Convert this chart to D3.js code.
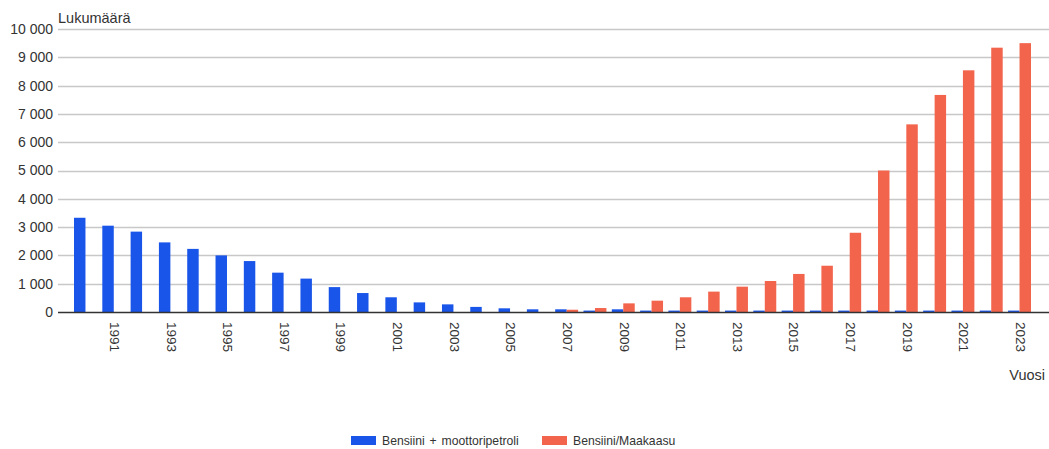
<!DOCTYPE html>
<html>
<head>
<meta charset="utf-8">
<script src="https://cdn.jsdelivr.net/npm/d3@7"></script>
<style>
  html, body { margin: 0; padding: 0; background: #fff; }
  svg { display: block; font-family: "Liberation Sans", Arial, sans-serif; }
</style>
</head>
<body>
<svg id="chart" width="1049" height="449"></svg>
<script>
// Registered vehicles by year and fuel type
const years = d3.range(1990, 2024);
const seriesNames = ["Bensiini + moottoripetroli", "Bensiini/Maakaasu"];
const petrolKerosene = [3330, 3050, 2840, 2460, 2230, 2000, 1800, 1390, 1180, 880,
  670, 520, 340, 270, 180, 130, 95, 95, 50, 95,
  50, 50, 50, 50, 50, 50, 50, 50, 50, 50,
  50, 50, 50, 50];
const petrolGas = [0, 0, 0, 0, 0, 0, 0, 0, 0, 0,
  0, 0, 0, 0, 0, 0, 0, 80, 140, 305,
  400, 520, 720, 895, 1095, 1345, 1635, 2800, 5000, 6630,
  7670, 8540, 9340, 9500];
const yTicks = [0, 1000, 2000, 3000, 4000, 5000, 6000, 7000, 8000, 9000, 10000];
const colors = ["#1a55ea", "#f3644c"];

const svg = d3.select("#chart");
const plotLeft = 58, plotRight = 1049, plotTop = 29, plotBottom = 312;

const x = d3.scaleBand().domain(years).range([74, 1031]).paddingInner(0.19).paddingOuter(0);
const xs = d3.scaleBand().domain([0, 1]).range([0, x.bandwidth()]);
const y = d3.scaleLinear().domain([0, 10000]).range([plotBottom, plotTop]);

const fmt = v => d3.format(",")(v).replace(/,/g, " ");

// Horizontal gridlines
svg.append("g")
  .selectAll("line")
  .data(yTicks.filter(d => d > 0))
  .join("line")
  .attr("x1", plotLeft).attr("x2", plotRight)
  .attr("y1", d => Math.round(y(d)) + 0.5).attr("y2", d => Math.round(y(d)) + 0.5)
  .attr("stroke", "#c8c8c8").attr("stroke-width", 1.6);

// Y axis labels
const yAxis = d3.axisLeft(y).tickValues(yTicks).tickFormat(fmt).tickSize(0).tickPadding(0);
const gy = svg.append("g").attr("transform", `translate(${plotLeft - 5},0)`).call(yAxis);
gy.select(".domain").remove();
gy.selectAll("text").attr("font-size", 14).attr("fill", "#333")
  .attr("font-family", "'Liberation Sans', Arial, sans-serif");

// Bars
const series = [petrolKerosene, petrolGas];
const groups = svg.append("g")
  .selectAll("g")
  .data(years)
  .join("g")
  .attr("transform", d => `translate(${x(d)},0)`);
groups.selectAll("rect")
  .data((d, i) => series.map((s, k) => ({ k, v: s[i] })))
  .join("rect")
  .attr("x", d => xs(d.k))
  .attr("width", xs.bandwidth())
  .attr("y", d => y(d.v))
  .attr("height", d => plotBottom - y(d.v))
  .attr("fill", d => colors[d.k]);

// Baseline
svg.append("line")
  .attr("x1", plotLeft).attr("x2", plotRight)
  .attr("y1", plotBottom + 0.5).attr("y2", plotBottom + 0.5)
  .attr("stroke", "#333").attr("stroke-width", 1.4);

// X axis labels (every second year, rotated)
const xAxis = d3.axisBottom(x).tickValues(years.filter(d => d % 2 === 1)).tickSize(0).tickPadding(0);
const gx = svg.append("g").attr("transform", `translate(1,${plotBottom + 10})`).call(xAxis);
gx.select(".domain").remove();
gx.selectAll("text")
  .attr("font-size", 13.5).attr("fill", "#333")
  .attr("font-family", "'Liberation Sans', Arial, sans-serif")
  .attr("transform", "rotate(90)")
  .attr("text-anchor", "start")
  .attr("dy", "0.35em").attr("y", 0).attr("x", 0);

// Axis titles
svg.append("text").attr("x", 58).attr("y", 22.5)
  .attr("font-size", 14.5).attr("fill", "#333").text("Lukumäärä");
svg.append("text").attr("x", 1045).attr("y", 380).attr("text-anchor", "end")
  .attr("font-size", 14.5).attr("fill", "#333").text("Vuosi");

// Legend
const legend = svg.append("g").attr("transform", "translate(351,436)");
const legendX = [0, 191];
seriesNames.forEach((name, k) => {
  const g = legend.append("g").attr("transform", `translate(${legendX[k]},0)`);
  g.append("rect").attr("width", 25).attr("height", 9).attr("fill", colors[k]);
  g.append("text").attr("x", 31).attr("y", 9).attr("font-size", 12.2).attr("fill", "#333")
    .attr("word-spacing", k === 0 ? 1.5 : 0).text(name);
});
</script>
</body>
</html>
